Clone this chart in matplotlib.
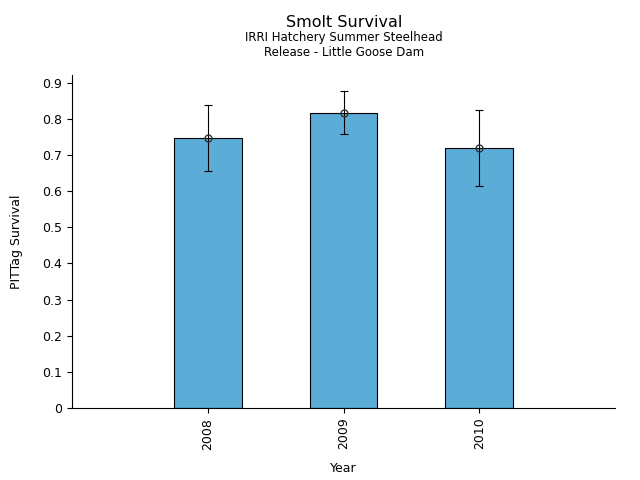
import matplotlib
matplotlib.use("Agg")
import matplotlib.pyplot as plt

years = ["2008", "2009", "2010"]
survival = [0.748, 0.817, 0.720]
lower = [0.657, 0.757, 0.615]
upper = [0.840, 0.878, 0.826]

fig = plt.figure(figsize=(6.4, 4.8), dpi=100)
ax = fig.add_axes([0.1125, 0.15, 0.8485, 0.694])

x = list(range(len(years)))
ax.bar(x, survival, width=0.5, color="#5bacd6", edgecolor="black", linewidth=0.8)
yerr = [[s - l for s, l in zip(survival, lower)], [u - s for s, u in zip(survival, upper)]]
ax.errorbar(x, survival, yerr=yerr, fmt="o", mfc="none", mec="#333333", ms=5,
            ecolor="black", elinewidth=0.8, capsize=3, capthick=0.8)

ax.set_xlim(-1, 3)
ax.set_ylim(0, 0.922)
ax.set_yticks([0, 0.1, 0.2, 0.3, 0.4, 0.5, 0.6, 0.7, 0.8, 0.9])
ax.set_yticklabels(["0", "0.1", "0.2", "0.3", "0.4", "0.5", "0.6", "0.7", "0.8", "0.9"])
ax.set_xticks(x)
ax.set_xticklabels(years, rotation=90)
ax.tick_params(labelsize=9)
ax.spines["top"].set_visible(False)
ax.spines["right"].set_visible(False)
ax.set_xlabel("Year", fontsize=9, labelpad=9)
ax.set_ylabel("PITTag Survival", fontsize=9, labelpad=14)

fig.text(0.5375, 0.953, "Smolt Survival", ha="center", va="center", fontsize=11.5)
fig.text(0.5375, 0.921, "IRRI Hatchery Summer Steelhead", ha="center", va="center", fontsize=8.5)
fig.text(0.5375, 0.891, "Release - Little Goose Dam", ha="center", va="center", fontsize=8.5)

fig.savefig("out.png", dpi=100)
